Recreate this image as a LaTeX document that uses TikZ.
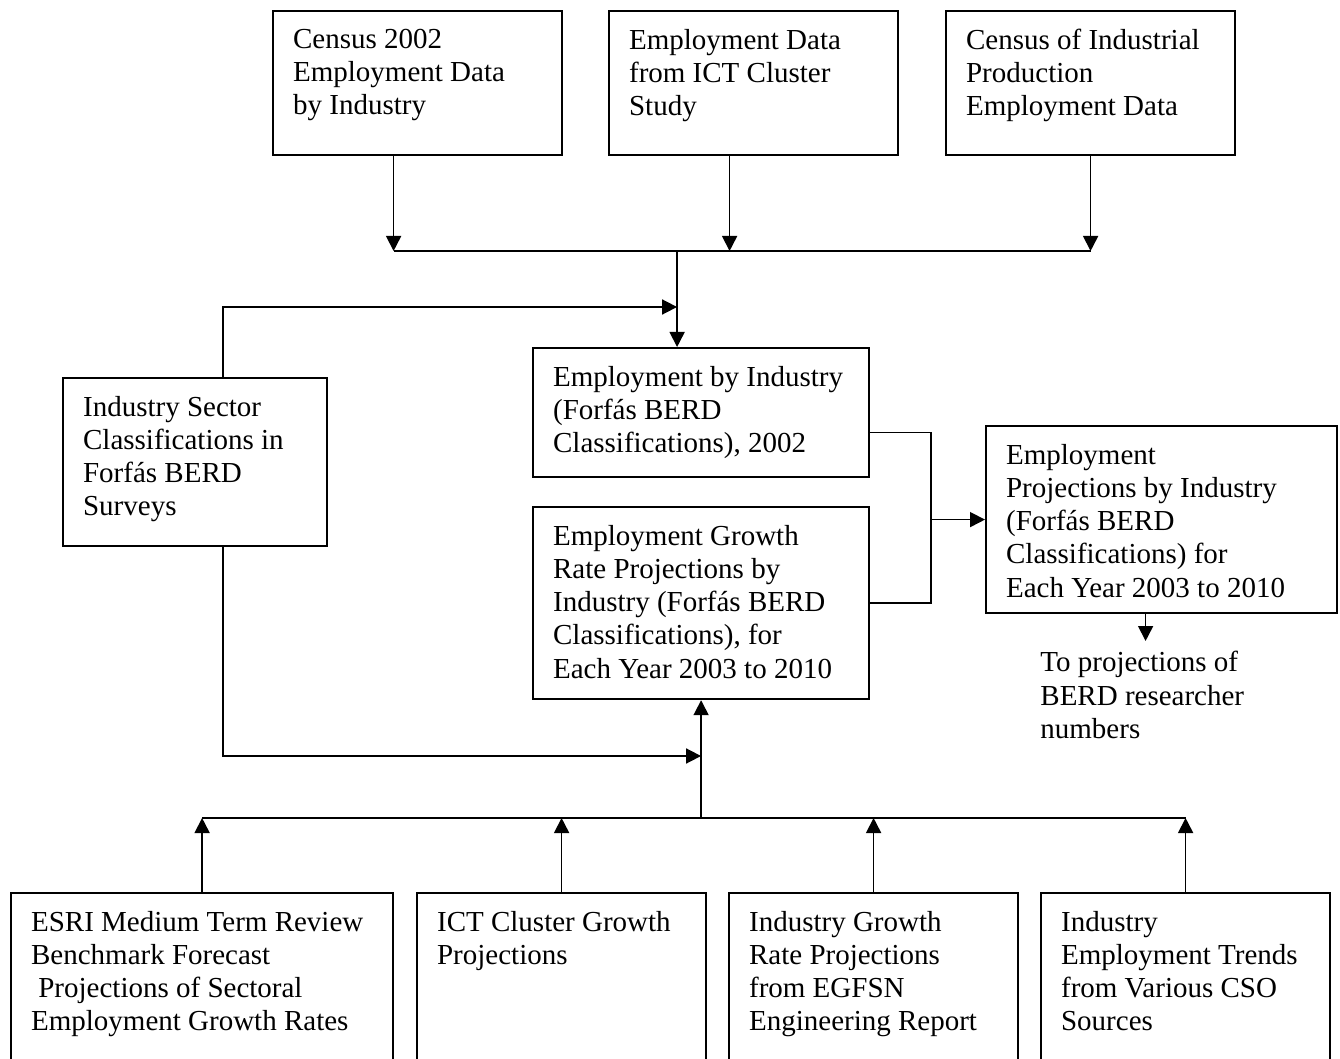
\documentclass[tikz,border=0pt]{standalone}
\usepackage{fontspec}
\setmainfont{Liberation Serif}
\usetikzlibrary{arrows.meta}

\begin{document}
\begin{tikzpicture}[x=0.5pt,y=-0.5pt,
    font=\fontsize{14.5}{16.6}\selectfont,
    >={Triangle[length=7.5pt,width=7.5pt]},
    line/.style={line width=0.85pt},
    box/.style 2 args={draw,line width=1.1pt,anchor=north west,inner xsep=10pt,inner ysep=9pt,
      execute at begin node={\begin{minipage}[t][#2][t]{#1}},
      execute at end node={\end{minipage}}}]
    % Page frame
    \useasboundingbox (0,0) rectangle (1340,1059);
    \clip (0,0) rectangle (1340,1059);

    % Data sources
    \node[box={124.5pt}{54pt}] (census) at (272,10) {Census 2002\\Employment Data\\by Industry};
    \node[box={124.5pt}{54pt}] (ictdata) at (608,10) {Employment Data\\from ICT Cluster\\Study};
    \node[box={124.5pt}{54pt}] (cip) at (945,10) {Census of Industrial\\Production\\Employment Data};

    % Middle boxes
    \node[box={112pt}{66pt}] (sector) at (62,377) {Industry Sector\\Classifications in\\Forfás BERD\\Surveys};
    \node[box={148pt}{46.5pt}] (empind) at (532,347) {Employment by Industry\\(Forfás BERD\\Classifications), 2002};
    \node[box={148pt}{78pt}] (growth) at (532,506) {Employment Growth\\Rate Projections by\\Industry (Forfás BERD\\Classifications), for\\Each Year 2003 to 2010};
    \node[box={155.5pt}{75.5pt}] (projind) at (985,425) {Employment\\Projections by Industry\\(Forfás BERD\\Classifications) for\\Each Year 2003 to 2010};
    \node[anchor=north west,inner sep=0pt,align=left] (tonext) at (1040,651) {To projections of\\BERD researcher\\numbers};

    % Growth sources
    \node[box={171pt}{120pt}] (esri) at (10,892) {ESRI Medium Term Review\\Benchmark Forecast\\\hspace*{0.25em}Projections of Sectoral\\Employment Growth Rates};
    \node[box={124.5pt}{120pt}] (ictgrowth) at (416,892) {ICT Cluster Growth\\Projections};
    \node[box={124.5pt}{120pt}] (egfsn) at (728,892) {Industry Growth\\Rate Projections\\from EGFSN\\Engineering Report};
    \node[box={124.5pt}{120pt}] (cso) at (1040,892) {Industry\\Employment Trends\\from Various CSO\\Sources};

    % Bus levels
    \coordinate (topbus) at (0,251);
    \coordinate (topjoin) at (0,307);
    \coordinate (lowjoin) at (0,756);
    \coordinate (lowbus) at (0,818);
    \coordinate (rightbus) at (931,0);
    \coordinate (c1) at ([xshift=-12pt]census.south);
    \coordinate (c2) at ([xshift=-12pt]ictdata.south);
    \coordinate (d1) at ([xshift=-12pt]empind.north);
    \coordinate (p1) at ([xshift=-8pt]projind.south);

    % Top connectors
    \draw[line,->] (c1) -- (c1 |- topbus);
    \draw[line,->] (c2) -- (c2 |- topbus);
    \draw[line,->] (cip.south) -- (cip.south |- topbus);
    \draw[line] (c1 |- topbus) -- (cip.south |- topbus);
    \draw[line,->] (d1 |- topbus) -- (d1);
    \draw[line,->] ([xshift=14pt]sector.north) |- (d1 |- topjoin);

    % Right connectors
    \draw[line] ([yshift=-10pt]empind.east) -| (rightbus |- growth.east) -- (growth.east);
    \draw[line,->] (rightbus |- projind.west) -- (projind.west);
    \draw[line,->,shorten >=5pt] (p1) -- (p1 |- tonext.north);

    % Bottom connectors
    \draw[line,->] ([xshift=14pt]sector.south) |- (growth.south |- lowjoin);
    \draw[line,->] (growth.south |- lowbus) -- (growth.south);
    \draw[line] (esri.north |- lowbus) -- (cso.north |- lowbus);
    \foreach \n in {esri,ictgrowth,egfsn,cso}
        \draw[line,->] (\n.north) -- (\n.north |- lowbus);
\end{tikzpicture}
\end{document}
